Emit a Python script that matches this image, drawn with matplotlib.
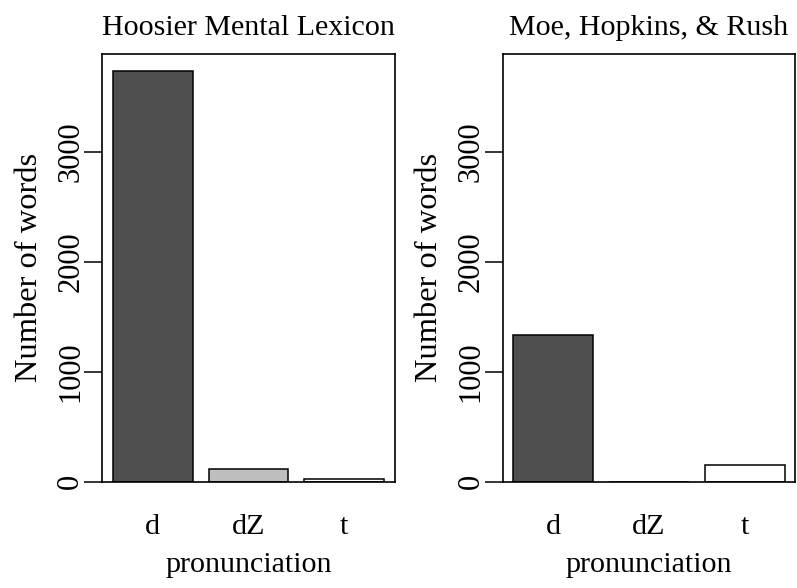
import matplotlib.pyplot as plt

# word counts by pronunciation of the spelling, per dictionary
pronunciations = ["d", "dZ", "t"]
hml_counts = [3740, 111, 20]
mhr_counts = [1330, 0, 150]
panel_titles = ["Hoosier Mental Lexicon", "Moe, Hopkins, & Rush"]
y_ticks = [0, 1000, 2000, 3000]

bar_colors = ["#4f4f4f", "#bebebe", "#ffffff"]

plt.rcParams['font.family'] = ['Liberation Serif', 'DejaVu Serif']

fig = plt.figure(figsize=(7.97, 5.88), dpi=100)
ax_left = fig.add_axes([0.128, 0.181, 0.3676, 0.727])
ax_right = fig.add_axes([0.6305, 0.181, 0.3676, 0.727])

# barplot-style positions: width 1, space 0.2
x_pos = [0.7 + 1.2 * i for i in range(len(pronunciations))]

for ax, counts, title in zip([ax_left, ax_right], [hml_counts, mhr_counts], panel_titles):
    ax.bar(x_pos, counts, width=1.0, color=bar_colors, edgecolor="black", linewidth=1.1)
    ax.set_xlim(0.064, 3.736)
    ax.set_ylim(0, 3890)
    ax.set_title(title, fontsize=21.6, pad=14)
    ax.set_xticks(x_pos)
    ax.set_xticklabels(pronunciations, fontsize=21.6)
    ax.tick_params(axis="x", length=0, pad=23)
    ax.set_yticks(y_ticks)
    ax.set_yticklabels([str(t) for t in y_ticks], fontsize=22, rotation=90, va="center")
    ax.tick_params(axis="y", length=13, width=1.1, pad=-1)
    ax.set_xlabel("pronunciation", fontsize=21.6, labelpad=9)
    ax.set_ylabel("Number of words", fontsize=23.4, labelpad=9)
    for side in ax.spines.values():
        side.set_linewidth(1.2)

fig.savefig("out.png", dpi=100)
